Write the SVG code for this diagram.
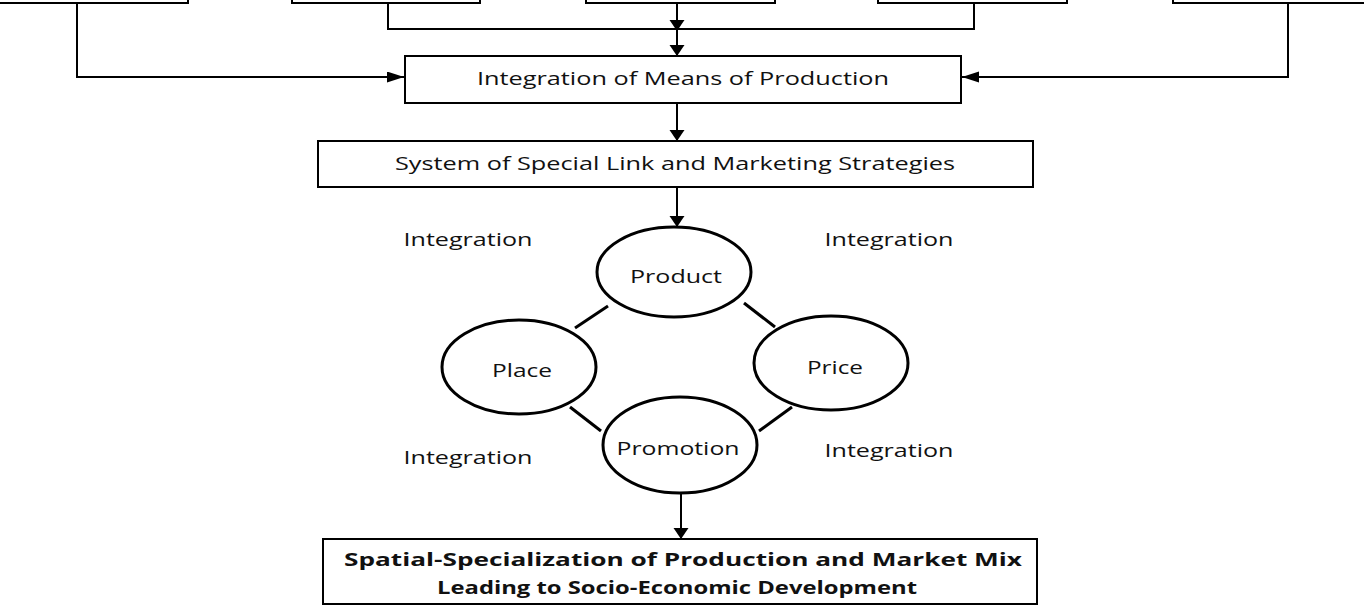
<svg xmlns="http://www.w3.org/2000/svg" width="1364" height="610" viewBox="0 0 1364 610">
<style>
.box{fill:#fff;stroke:#000;stroke-width:2}
.ell{fill:#fff;stroke:#000;stroke-width:3}
.ln{fill:none;stroke:#000;stroke-width:2}
.tl{fill:none;stroke:#000;stroke-width:3}
text{font-family:"Open Sans","Noto Sans","Liberation Sans",sans-serif;font-size:18px;fill:#111;text-anchor:middle;dominant-baseline:central}
.b{font-weight:bold}
</style>
<defs>
<marker id="av" markerUnits="userSpaceOnUse" markerWidth="12" markerHeight="16" refX="11" refY="7.5" orient="auto"><path d="M0,0 L11,7.5 L0,15 z" fill="#000"/></marker>
<marker id="ah" markerUnits="userSpaceOnUse" markerWidth="18" markerHeight="12" refX="17" refY="5.5" orient="auto"><path d="M0,0 L17,5.5 L0,11 z" fill="#000"/></marker>
</defs>
<g id="top1"><rect class="box" x="-1" y="-20" width="189" height="23"/></g>
<g id="top2"><rect class="box" x="292" y="-20" width="188" height="23"/></g>
<g id="top3"><rect class="box" x="586" y="-20" width="189" height="23"/></g>
<g id="top4"><rect class="box" x="878" y="-20" width="189" height="23"/></g>
<g id="top5"><rect class="box" x="1173" y="-20" width="193" height="23"/></g>
<g id="connectors">
<polyline class="ln" points="77,3 77,77 404,77" marker-end="url(#ah)"/>
<polyline class="ln" points="1288,3 1288,77 962,77" marker-end="url(#ah)"/>
<polyline class="ln" points="388,3 388,29 974,29 974,3"/>
<line class="ln" x1="677" y1="3" x2="677" y2="31" marker-end="url(#av)"/>
<line class="ln" x1="677" y1="29" x2="677" y2="56" marker-end="url(#av)"/>
<line class="ln" x1="677" y1="103" x2="677" y2="141" marker-end="url(#av)"/>
<line class="ln" x1="677" y1="187" x2="677" y2="227" marker-end="url(#av)"/>
<line class="ln" x1="681" y1="493" x2="681" y2="539" marker-end="url(#av)"/>
<line class="tl" x1="608" y1="306" x2="575" y2="328"/>
<line class="tl" x1="744" y1="303" x2="775" y2="327"/>
<line class="tl" x1="570" y1="407" x2="601" y2="431"/>
<line class="tl" x1="792" y1="407" x2="759" y2="431"/>
</g>
<g id="means"><rect class="box" x="405" y="56" width="556" height="47"/><text x="683" y="78" textLength="412" lengthAdjust="spacingAndGlyphs">Integration of Means of Production</text></g>
<g id="system"><rect class="box" x="318" y="141" width="715" height="46"/><text x="675" y="163" textLength="560" lengthAdjust="spacingAndGlyphs">System of Special Link and Marketing Strategies</text></g>
<g id="product"><ellipse class="ell" cx="674" cy="272" rx="77" ry="45"/><text x="676" y="276" textLength="92" lengthAdjust="spacingAndGlyphs">Product</text></g>
<g id="place"><ellipse class="ell" cx="519" cy="367" rx="77" ry="47"/><text x="522" y="370" textLength="60" lengthAdjust="spacingAndGlyphs">Place</text></g>
<g id="price"><ellipse class="ell" cx="831" cy="363" rx="77" ry="47"/><text x="835" y="367" textLength="56" lengthAdjust="spacingAndGlyphs">Price</text></g>
<g id="promotion"><ellipse class="ell" cx="680" cy="445" rx="77" ry="48"/><text x="678" y="448" textLength="123" lengthAdjust="spacingAndGlyphs">Promotion</text></g>
<g id="labels">
<text x="468" y="239" textLength="129" lengthAdjust="spacingAndGlyphs">Integration</text>
<text x="889" y="239" textLength="129" lengthAdjust="spacingAndGlyphs">Integration</text>
<text x="468" y="457" textLength="129" lengthAdjust="spacingAndGlyphs">Integration</text>
<text x="889" y="450" textLength="129" lengthAdjust="spacingAndGlyphs">Integration</text>
</g>
<g id="result"><rect class="box" x="323" y="539" width="714" height="65"/>
<text class="b" x="683" y="559" textLength="678" lengthAdjust="spacingAndGlyphs">Spatial-Specialization of Production and Market Mix</text>
<text class="b" x="677" y="587" textLength="480" lengthAdjust="spacingAndGlyphs">Leading to Socio-Economic Development</text>
</g>
</svg>
